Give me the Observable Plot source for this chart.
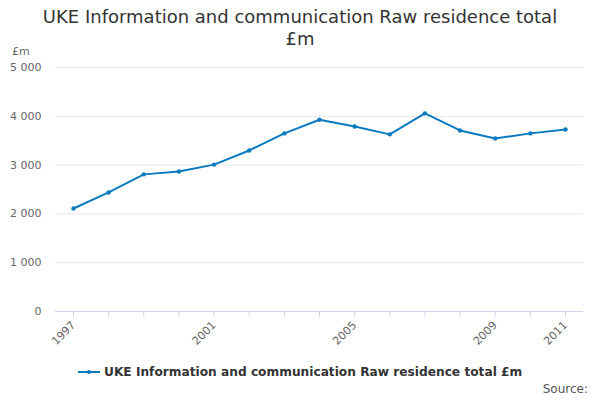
<!DOCTYPE html>
<html><head><meta charset="utf-8">
<script src="https://cdn.jsdelivr.net/npm/d3@7"></script>
<script src="https://cdn.jsdelivr.net/npm/@observablehq/plot@0.6"></script>
<style>
body{margin:0;width:600px;height:400px;font-family:"DejaVu Sans",sans-serif;background:#fff;position:relative;overflow:hidden}
#title{position:absolute;top:6px;left:0;width:600px;text-align:center;font-size:18px;line-height:22px;color:#333}
#chart{position:absolute;top:55px;left:0}
#legend{position:absolute;top:365px;left:78px;font-size:12.2px;font-weight:bold;color:#333;display:flex;align-items:center}
#source{position:absolute;top:382px;right:12px;font-size:12px;color:#555}
</style></head><body>
<div id="title">UKE Information and communication Raw residence total<br>£m</div>
<div id="chart"></div>
<div id="legend"><svg width="22" height="10"><line x1="0" y1="5" x2="22" y2="5" stroke="#0b7bc1" stroke-width="2"/><circle cx="11" cy="5" r="2" fill="#0b7bc1"/></svg><span style="margin-left:4px">UKE Information and communication Raw residence total £m</span></div>
<div id="source">Source:</div>
<script>
const years=[1997,1998,1999,2000,2001,2002,2003,2004,2005,2006,2007,2008,2009,2010,2011];
const values=[2110,2440,2810,2870,3010,3300,3650,3930,3790,3630,4060,3710,3545,3650,3730];
const xTicks=[1997,2001,2005,2009,2011];
const yTicks=[0,1000,2000,3000,4000,5000];
const data=years.map((y,i)=>({year:y,value:values[i]}));
const fmt=d=>d3.format(",")(d).replace(/,/g," ");
const col="#0b7bc1";
const p=Plot.plot({
 width:600,height:300,marginTop:12,marginBottom:44,marginLeft:55,marginRight:17,
 style:{fontFamily:"DejaVu Sans",fontSize:"11px",color:"#666"},
 x:{domain:[1997,2011],ticks:xTicks,tickFormat:d=>String(d),tickRotate:-45,label:null,tickSize:5,inset:18},
 y:{domain:[0,5000],ticks:yTicks,tickFormat:fmt,label:null,tickSize:0},
 marks:[
  Plot.gridY(yTicks,{stroke:"#e6e6e6",strokeOpacity:1}),
  Plot.ruleY([0],{stroke:"#ccd6eb"}),
  Plot.axisX({ticks:years,tickFormat:d=>xTicks.includes(d)?String(d):"",tickRotate:-45,stroke:"#ccd6eb",label:null}),
  Plot.axisY({ticks:yTicks,tickFormat:fmt,tickSize:0,label:null,tickPadding:14}),
  Plot.line(data,{x:"year",y:"value",stroke:col,strokeWidth:2}),
  Plot.dot(data,{x:"year",y:"value",fill:col,r:2.2})
 ]
});
document.getElementById("chart").appendChild(p);
const lab=document.createElement("div");
lab.textContent="£m";
lab.style.cssText="position:absolute;top:45px;left:12px;font-size:11px;color:#666";
document.body.appendChild(lab);
</script></body></html>
